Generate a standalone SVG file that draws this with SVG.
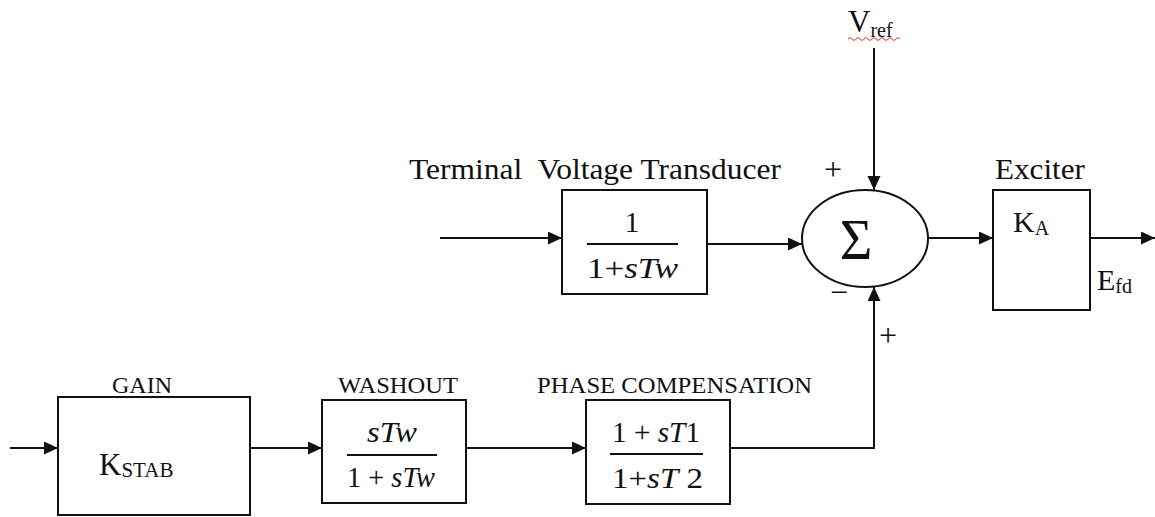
<svg xmlns="http://www.w3.org/2000/svg" width="1155" height="517" viewBox="0 0 1155 517">
<defs>
<marker id="arr" markerUnits="userSpaceOnUse" markerWidth="15" markerHeight="14" refX="14" refY="6.5" orient="auto">
<path d="M0,0 L14,6.5 L0,13 Z" fill="#111"/>
</marker>
<style>
.box{fill:#fff;stroke:#111;stroke-width:2}
.ln{fill:none;stroke:#111;stroke-width:2}
.ar{fill:none;stroke:#111;stroke-width:2;marker-end:url(#arr)}
text{font-family:"Liberation Serif","Times New Roman",serif;fill:#111}
.lbl{font-size:30px}
.cap{font-size:24px}
.frac{font-size:29px}
.it{font-style:italic}
.sub{font-size:20px}
.sign{font-size:32px}
</style>
</defs>
<rect width="1155" height="517" fill="#fff"/>

<g id="connectors">
<path class="ar" d="M874,48 L874,190"/>
<path class="ar" d="M440,238 L562,238"/>
<path class="ar" d="M707,244 L802,244"/>
<path class="ar" d="M928,238 L993,238"/>
<path class="ar" d="M1090,238 L1155,238"/>
<path class="ar" d="M10,448 L58,448"/>
<path class="ar" d="M250,448 L322,448"/>
<path class="ar" d="M466,448 L586,448"/>
<path class="ar" d="M730,448 L874,448 L874,287"/>
</g>

<g id="vref">
<text x="848" y="32" font-size="31">V<tspan class="sub" dy="5">ref</tspan></text>
<path d="M848,39 q2,-3 4,0 t4,0 t4,0 t4,0 t4,0 t4,0 t4,0 t4,0 t4,0 t4,0 t4,0 t4,0 t4,0" fill="none" stroke="#e33" stroke-width="1"/>
</g>

<g id="tvt">
<text class="lbl" x="409" y="179" textLength="372" lengthAdjust="spacingAndGlyphs" xml:space="preserve">Terminal  Voltage Transducer</text>
<rect class="box" x="562" y="190" width="145" height="104"/>
<text class="frac" x="632" y="232" text-anchor="middle">1</text>
<path class="ln" d="M587,244 L678,244"/>
<text class="frac" x="587" y="278" textLength="91" lengthAdjust="spacingAndGlyphs">1+<tspan class="it">sTw</tspan></text>
</g>

<g id="sum">
<ellipse class="box" cx="865" cy="238.5" rx="63" ry="48.5"/>
<text x="856" y="259" font-size="56" text-anchor="middle">Σ</text>
<text class="sign" x="833" y="180" text-anchor="middle">+</text>
<text class="sign" x="839" y="303" text-anchor="middle">−</text>
<text class="sign" x="888" y="346" text-anchor="middle">+</text>
</g>

<g id="exciter">
<text class="lbl" x="995" y="179" textLength="90" lengthAdjust="spacingAndGlyphs">Exciter</text>
<rect class="box" x="993" y="190" width="97" height="120"/>
<text class="lbl" x="1013" y="232">K<tspan class="sub" dy="3">A</tspan></text>
<text class="lbl" x="1097" y="290">E<tspan class="sub" dy="3">fd</tspan></text>
</g>

<g id="gain">
<text class="cap" x="112" y="393" textLength="60" lengthAdjust="spacingAndGlyphs">GAIN</text>
<rect class="box" x="58" y="397" width="192" height="118"/>
<text x="99" y="475" font-size="31">K<tspan font-size="21" dy="2">STAB</tspan></text>
</g>

<g id="washout">
<text class="cap" x="338" y="393" textLength="120" lengthAdjust="spacingAndGlyphs">WASHOUT</text>
<rect class="box" x="322" y="400" width="144" height="103"/>
<text class="frac it" x="367" y="442" textLength="50" lengthAdjust="spacingAndGlyphs">sTw</text>
<path class="ln" d="M347,455 L437,455"/>
<text class="frac" x="347" y="487" textLength="88" lengthAdjust="spacingAndGlyphs">1 + <tspan class="it">sTw</tspan></text>
</g>

<g id="phase">
<text class="cap" x="537" y="393" textLength="275" lengthAdjust="spacingAndGlyphs">PHASE COMPENSATION</text>
<rect class="box" x="586" y="400" width="144" height="104"/>
<text class="frac" x="612" y="442" textLength="88" lengthAdjust="spacingAndGlyphs">1 + <tspan class="it">sT</tspan>1</text>
<path class="ln" d="M610,454 L703,454"/>
<text class="frac" x="612" y="488" textLength="91" lengthAdjust="spacingAndGlyphs">1+<tspan class="it">sT</tspan> 2</text>
</g>
</svg>
